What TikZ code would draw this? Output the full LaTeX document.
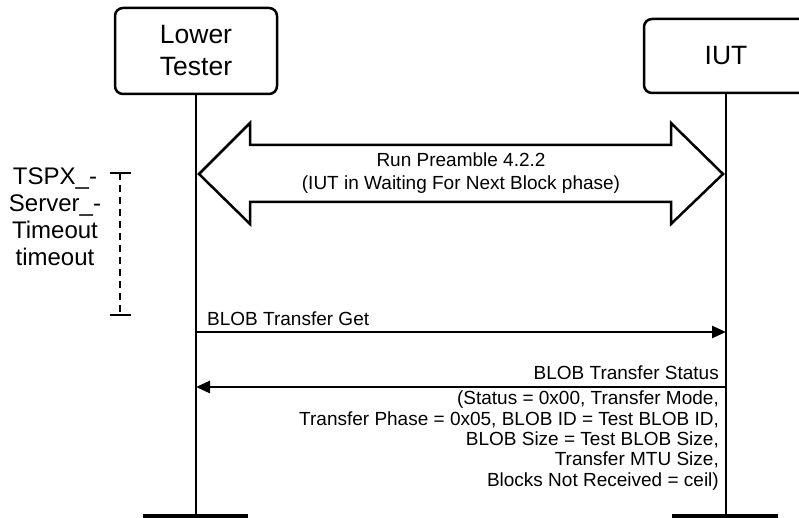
\documentclass[tikz,border=0pt]{standalone}
\usepackage{fontspec}
\setmainfont{Liberation Sans}
\usetikzlibrary{arrows.meta}
\begin{document}
\begin{tikzpicture}[x=1pt,y=-1pt,
  entity/.style={draw,line width=2.5pt,rounded corners=8pt},
  bigtxt/.style={font=\fontsize{26.5}{32}\selectfont,align=center},
  msgtxt/.style={font=\fontsize{19}{20.3}\selectfont,inner sep=0pt},
  lifeline/.style={line width=2.5pt},
  foot/.style={line width=5pt},
  msg/.style={line width=2.5pt,-{Triangle[length=14pt,width=12pt]}},
  tmr/.style={line width=2.8pt}]
\useasboundingbox (0,0) rectangle (799,518);
\clip (0,0) rectangle (799,518);
% entity boxes
\draw[entity] (115,8) rectangle (277,94);
\node[bigtxt] (lt) at (196,51) {Lower\\Tester};
\draw[entity] (644,19) rectangle (812,93);
\node[bigtxt] (iut) at (726,56) {IUT};
% lifeline coordinates
\coordinate (ltTop) at (196,94);
\coordinate (ltBot) at (196,516);
\coordinate (iutTop) at (726,93);
\coordinate (iutBot) at (726,516);
\draw[lifeline] (ltTop) -- (ltBot);
\draw[lifeline] (iutTop) -- (iutBot);
\draw[foot] (143,516) -- (248,516);
\draw[foot] (672,516) -- (778,516);
% preamble double arrow
\draw[line width=2.5pt,line join=miter] (199,174) -- (250,123) -- (250,145) -- (671,145) -- (671,123)
  -- (723,174) -- (671,224) -- (671,202) -- (250,202) -- (250,224) -- cycle;
\node[font=\fontsize{19}{23}\selectfont,align=center] (pre) at (461,173.5)
  {Run Preamble 4.2.2\\(IUT in Waiting For Next Block phase)};
% timer
\coordinate (tTop) at (120,173);
\coordinate (tBot) at (120,315);
\draw[tmr] (110,173) -- (131,173);
\draw[tmr] (110,315) -- (131,315);
\draw[tmr,dash pattern=on 7pt off 5pt] (tTop) -- (tBot);
\node[font=\fontsize{24}{27}\selectfont,align=center] (tmrtxt) at (55,217)
  {TSPX\_-\\Server\_-\\Timeout\\timeout};
% messages
\coordinate (m1a) at (196,332);
\coordinate (m1b) at (726,332);
\draw[msg] (m1a) -- (m1b);
\node[msgtxt,anchor=base west] (m1lbl) at (207,325) {BLOB Transfer Get};
\coordinate (m2a) at (726,387);
\coordinate (m2b) at (196,387);
\draw[msg] (m2a) -- (m2b);
\node[msgtxt,anchor=base east] (m2lbl) at (719,379) {BLOB Transfer Status};
\node[msgtxt,anchor=north east,align=right] (m2par) at (719,391)
  {(Status = 0x00, Transfer Mode,\\Transfer Phase = 0x05, BLOB ID = Test BLOB ID,\\BLOB Size = Test BLOB Size,\\Transfer MTU Size,\\Blocks Not Received = ceil)};
\end{tikzpicture}
\end{document}
